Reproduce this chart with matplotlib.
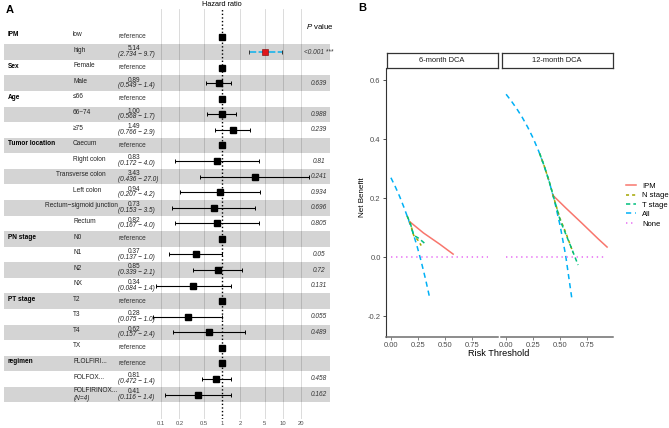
import matplotlib.pyplot as plt
from matplotlib.lines import Line2D
from matplotlib.ticker import NullLocator

plt.rcParams['font.family'] = ['Liberation Sans', 'DejaVu Sans']
plt.rcParams['mathtext.fontset'] = 'custom'
plt.rcParams['mathtext.it'] = 'Liberation Sans:italic'
plt.rcParams['mathtext.rm'] = 'Liberation Sans'

W, H = 669, 428

# ---- panel A data (forest plot) ----
var_names = ['IPM', '', 'Sex', '', 'Age', '', '', 'Tumor location', '', '', '', '', '',
             'PN stage', '', '', '', 'PT stage', '', '', '', 'regimen', '', '']
levels = ['low', 'high', 'Female', 'Male', '≤66', '66~74', '≥75', 'Caecum', 'Right colon',
          'Transverse colon', 'Left colon', 'Rectum−sigmoid junction', 'Rectum', 'N0', 'N1',
          'N2', 'NX', 'T2', 'T3', 'T4', 'TX', 'FLOLFIRI...', 'FOLFOX...', 'FOLFIRINOX...']
n_notes = ['', '', '', '', '', '', '', '', '', '', '', '', '', '', '', '', '', '', '', '', '',
           '', '', '(N=4)']
hr = [1, 5.14, 1, 0.89, 1, 1.00, 1.49, 1, 0.83, 3.43, 0.94, 0.73, 0.82, 1, 0.37, 0.85, 0.34,
      1, 0.28, 0.62, 1, 1, 0.81, 0.41]
ci_low = [None, 2.734, None, 0.549, None, 0.568, 0.766, None, 0.172, 0.436, 0.207, 0.153, 0.167,
          None, 0.137, 0.339, 0.084, None, 0.075, 0.157, None, None, 0.472, 0.116]
ci_high = [None, 9.7, None, 1.4, None, 1.7, 2.9, None, 4.0, 27.0, 4.2, 3.5, 4.0,
           None, 1.0, 2.1, 1.4, None, 1.0, 2.4, None, None, 1.4, 1.4]
p_values = ['', '<0.001 ***', '', '0.639', '', '0.988', '0.239', '', '0.81', '0.241', '0.934',
            '0.696', '0.805', '', '0.05', '0.72', '0.131', '', '0.055', '0.489', '', '',
            '0.458', '0.162']
hr_ticks = [0.1, 0.2, 0.5, 1, 2, 5, 10, 20]
hr_tick_labels = ['0.1', '0.2', '0.5', '1', '2', '5', '10', '20']

# ---- panel B data (decision curves) ----
t_all6 = [0.0, 0.04, 0.08, 0.12, 0.16, 0.20, 0.24, 0.28, 0.32, 0.36]
nb_all6 = [0.27, 0.24, 0.207, 0.17, 0.13, 0.088, 0.04, -0.014, -0.074, -0.14]
t_ipm6 = [0.177, 0.30, 0.45, 0.575]
nb_ipm6 = [0.12, 0.083, 0.045, 0.011]
t_n6 = [0.15, 0.18, 0.21, 0.25, 0.28]
nb_n6 = [0.14, 0.115, 0.075, 0.058, 0.04]
t_t6 = [0.15, 0.18, 0.21, 0.26, 0.32]
nb_t6 = [0.14, 0.115, 0.075, 0.064, 0.045]

t_all12 = [0.0, 0.05, 0.10, 0.15, 0.20, 0.25, 0.30, 0.35, 0.40, 0.45, 0.50, 0.55, 0.61]
nb_all12 = [0.553, 0.529, 0.503, 0.474, 0.441, 0.404, 0.361, 0.312, 0.255, 0.187, 0.106,
            0.007, -0.146]
t_ipm12 = [0.433, 0.55, 0.70, 0.85, 0.933]
nb_ipm12 = [0.21, 0.168, 0.116, 0.063, 0.035]
t_n12 = [0.31, 0.35, 0.40, 0.45, 0.50, 0.55, 0.60, 0.62]
nb_n12 = [0.352, 0.312, 0.255, 0.19, 0.13, 0.085, 0.035, 0.015]
t_t12 = [0.31, 0.35, 0.40, 0.45, 0.50, 0.55, 0.60, 0.665]
nb_t12 = [0.352, 0.312, 0.255, 0.19, 0.125, 0.08, 0.035, -0.026]
t_none = [0.0, 0.9]
nb_none = [0.0, 0.0]

curve_names = ['IPM', 'N stage', 'T stage', 'All', 'None']
curve_colors = ['#F8766D', '#A3A500', '#00BF7D', '#00B0F6', '#E76BF3']
curve_styles = ['-', (0, (2.0, 2.0)), (0, (2.8, 2.0)), (0, (3.4, 2.6)), (0, (0.9, 2.4))]
panel_titles = ['6-month DCA', '12-month DCA']

fig = plt.figure(figsize=(W / 100, H / 100), dpi=100)


def px_axes(x0, y0, x1, y1):
    return fig.add_axes([x0 / W, 1 - y1 / H, (x1 - x0) / W, (y1 - y0) / H])


# ================= panel A =================
axf = px_axes(4, 9, 330, 419)
axf.set_xscale('log')
axf.set_xlim(10 ** ((4 - 222) / 61), 10 ** ((330 - 222) / 61))
axf.set_ylim(24.57, -1.767)
for s in axf.spines.values():
    s.set_visible(False)
axf.set_yticks([])
axf.set_xticks(hr_ticks)
axf.set_xticklabels(hr_tick_labels)
axf.xaxis.set_minor_locator(NullLocator())
axf.tick_params(axis='x', length=0, labelsize=4.2, pad=1.2, colors='#4d4d4d')

for t in hr_ticks:
    if t != 1:
        axf.axvline(t, color='#d6d6d6', lw=0.6, zorder=0)
axf.axvline(1, color='black', lw=1.0, ls=(0, (1, 1.6)), zorder=4)

for i in range(len(levels)):
    if i % 2 == 1:
        axf.axhspan(i - 0.5, i + 0.5, color='black', alpha=0.17, lw=0, zorder=1)

tr = axf.get_yaxis_transform()
FS = 4.7


def fx(px):
    return (px - 4) / 326


for i in range(len(levels)):
    if var_names[i]:
        axf.text(fx(8), i - 0.1, var_names[i], transform=tr, fontsize=FS, fontweight='bold',
                 ha='left', va='center')
    lev_y = i - 0.24 if n_notes[i] else i - 0.12
    if len(levels[i]) > 14:
        axf.text(fx(81), lev_y, levels[i], transform=tr, fontsize=FS, ha='center',
                 va='center', color='#222222')
    else:
        axf.text(fx(73), lev_y, levels[i], transform=tr, fontsize=FS, ha='left',
                 va='center', color='#222222')
    if n_notes[i]:
        axf.text(fx(74), i + 0.24, n_notes[i], transform=tr, fontsize=FS, ha='left',
                 va='center', style='italic', color='#222222')
    if ci_low[i] is None:
        axf.text(fx(132.5), i, 'reference', transform=tr, fontsize=FS, ha='center',
                 va='center', color='#333333')
        axf.plot(hr[i], i, marker='s', color='black', ms=4.2, zorder=5)
    else:
        axf.text(fx(134), i - 0.2, f'{hr[i]:.2f}', transform=tr, fontsize=FS, ha='center',
                 va='center', color='#222222')
        axf.text(fx(118), i + 0.17, f'({ci_low[i]:.3f} − {ci_high[i]:.1f})', transform=tr,
                 fontsize=FS, ha='left', va='center', style='italic', color='#222222')
        if p_values[i].startswith('<'):
            axf.plot([ci_low[i], ci_high[i]], [i, i], color='#29B6E8', lw=1.3,
                     ls=(0, (4, 1.3)), zorder=3)
            axf.errorbar(hr[i], i, xerr=[[hr[i] - ci_low[i]], [ci_high[i] - hr[i]]],
                         fmt='none', ecolor='#333333', elinewidth=0, capsize=1.3,
                         capthick=0.7, zorder=3)
            axf.plot(hr[i], i, marker='s', color='#E0151B', mec='#7a0000', mew=0.4,
                     ms=4.2, zorder=5)
        else:
            axf.errorbar(hr[i], i, xerr=[[hr[i] - ci_low[i]], [ci_high[i] - hr[i]]],
                         fmt='none', ecolor='black', elinewidth=0.8, capsize=1.3,
                         capthick=0.7, zorder=3)
            axf.plot(hr[i], i, marker='s', color='black', ms=4.2, zorder=5)
    if p_values[i]:
        axf.text(fx(319), i, p_values[i], transform=tr, fontsize=FS, ha='center',
                 va='center', style='italic', color='#333333')

axf.text(fx(320), -0.67, r'$\it{P}$ value', transform=tr, fontsize=5.6, ha='center',
         va='center')
fig.text(222 / W, 1 - 5 / H, 'Hazard ratio', fontsize=5.3, ha='center', va='center')
fig.text(6 / W, 1 - 10 / H, 'A', fontsize=8, fontweight='bold', ha='left', va='center')

# ================= panel B =================
fig.text(362 / W, 1 - 8 / H, 'B', fontsize=8, fontweight='bold', ha='center', va='center')

panel_px = [(385.5, 497.5), (500.7, 612.7)]
curves = [
    [(t_ipm6, nb_ipm6), (t_n6, nb_n6), (t_t6, nb_t6), (t_all6, nb_all6), (t_none, nb_none)],
    [(t_ipm12, nb_ipm12), (t_n12, nb_n12), (t_t12, nb_t12), (t_all12, nb_all12),
     (t_none, nb_none)],
]
draw_order = [3, 4, 0, 1, 2]

for k, (x0, x1) in enumerate(panel_px):
    ax = px_axes(x0, 68, x1, 336.7)
    ax.set_xlim(-0.05, 0.985)
    ax.set_ylim(-0.269, 0.642)
    for j in draw_order:
        tx, ny = curves[k][j]
        ax.plot(tx, ny, color=curve_colors[j], ls=curve_styles[j], lw=1.1)
    ax.set_xticks([0, 0.25, 0.5, 0.75])
    ax.set_xticklabels(['0.00', '0.25', '0.50', '0.75'])
    ax.tick_params(axis='x', length=2, width=0.6, colors='#6e6e6e', labelcolor='#4d4d4d',
                   labelsize=5.5, pad=1.5)
    ax.spines['top'].set_visible(False)
    ax.spines['right'].set_visible(False)
    ax.spines['bottom'].set_color('#6e6e6e')
    ax.spines['bottom'].set_linewidth(1.1)
    if k == 0:
        ax.set_yticks([-0.2, 0.0, 0.2, 0.4, 0.6])
        ax.set_yticklabels(['-0.2', '0.0', '0.2', '0.4', '0.6'])
        ax.tick_params(axis='y', length=2, width=0.6, colors='#333333',
                       labelcolor='#4d4d4d', labelsize=5.5, pad=1.5)
        ax.spines['left'].set_color('#333333')
        ax.spines['left'].set_linewidth(0.8)
    else:
        ax.set_yticks([])
        ax.spines['left'].set_visible(False)

    strip = px_axes(x0 + 1, 53, x1, 68)
    strip.set_xticks([])
    strip.set_yticks([])
    for s in strip.spines.values():
        s.set_color('#333333')
        s.set_linewidth(0.9)
    strip.text(0.5, 0.5, panel_titles[k], transform=strip.transAxes, fontsize=5.4,
               ha='center', va='center', color='#1a1a1a')

fig.text(362 / W, 1 - 197 / H, 'Net Benefit', fontsize=5.8, rotation=90, ha='center',
         va='center')
fig.text(499 / W, 1 - 354 / H, 'Risk Threshold', fontsize=6.6, ha='center', va='center')

handles = [Line2D([0], [0], color=c, ls=s, lw=1.1) for c, s in zip(curve_colors, curve_styles)]
fig.legend(handles, curve_names, loc='center left', bbox_to_anchor=(626 / W, 1 - 205 / H),
           frameon=False, fontsize=5.5, handlelength=1.35, handletextpad=0.8,
           labelspacing=0.28, borderpad=0, borderaxespad=0)

fig.savefig('out.png', dpi=100)
